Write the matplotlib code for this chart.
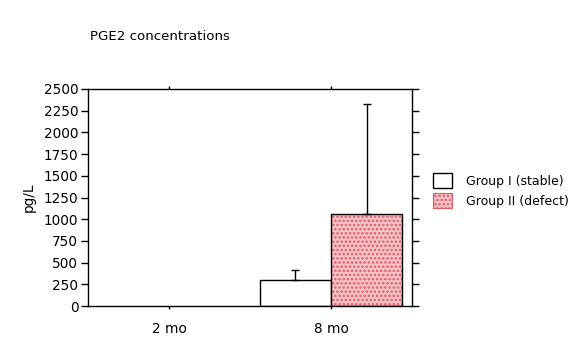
import matplotlib
matplotlib.use("Agg")
import matplotlib.pyplot as plt
import numpy as np
from matplotlib.patches import Patch

plt.rcParams["font.family"] = ["DejaVu Sans"]
plt.rcParams["hatch.linewidth"] = 1.2

categories = ["2 mo", "8 mo"]
group1 = [np.nan, 300]
group1_err = [np.nan, 120]
group2 = [np.nan, 1055]
group2_err = [np.nan, 1270]
yticks = [0, 250, 500, 750, 1000, 1250, 1500, 1750, 2000, 2250, 2500]

fig = plt.figure(figsize=(5.85, 3.42), dpi=100)
ax = fig.add_axes([88 / 585, 36 / 342, 324 / 585, 217 / 342])

x = np.arange(len(categories))
w = 0.44

ax.bar(x - w / 2, group1, w, color="white", edgecolor="black", linewidth=1)
ax.bar(x + w / 2, group2, w, color="#f6c4c8", edgecolor="#e05a68",
       hatch="....", linewidth=0)
ax.bar(x + w / 2, group2, w, fill=False, edgecolor="black", linewidth=1)

zeros = np.zeros(len(categories))
ax.errorbar(x - w / 2, group1, yerr=[zeros, group1_err], fmt="none",
            ecolor="black", elinewidth=1, capsize=3, capthick=1)
ax.errorbar(x + w / 2, group2, yerr=[zeros, group2_err], fmt="none",
            ecolor="black", elinewidth=1, capsize=3, capthick=1)

ax.set_xlim(-0.5, 1.5)
ax.set_ylim(0, 2500)
ax.set_xticks(x)
ax.set_xticklabels(categories)
ax.set_yticks(yticks)
ax.tick_params(axis="both", direction="out", length=2.5, width=1,
               labelsize=9.8, top=True, right=True)
ax.tick_params(axis="y", which="major", left=True, length=5, pad=2)
ax.tick_params(axis="x", pad=9)
for s in ax.spines.values():
    s.set_linewidth(1)
ax.set_ylabel("pg/L", fontsize=9.8, labelpad=6)

fig.text(90 / 585, 1 - 37 / 342, "PGE2 concentrations", fontsize=9.6,
         va="center", ha="left")

handles = [
    Patch(facecolor="white", edgecolor="black", linewidth=1),
    Patch(facecolor="#f6c4c8", edgecolor="#e05a68", hatch="....", linewidth=0.8),
]
fig.legend(handles, ["Group I (stable)", "Group II (defect)"],
           loc="upper left", bbox_to_anchor=(433 / 585, 1 - 173 / 342),
           frameon=False, fontsize=9, handlelength=1.5, handleheight=1.45,
           handletextpad=1.1, labelspacing=0.45, borderpad=0, borderaxespad=0)

fig.savefig("out.png", dpi=100)
